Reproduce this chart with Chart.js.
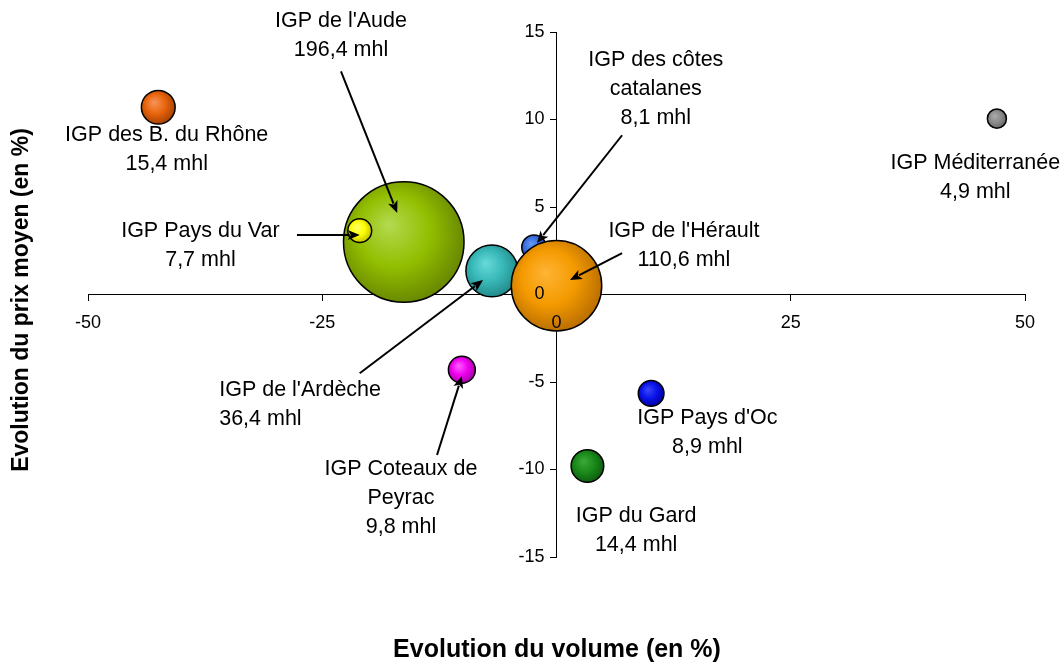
<!DOCTYPE html>
<html>
<head>
<meta charset="utf-8">
<script src="https://cdn.jsdelivr.net/npm/chart.js@4"></script>
<style>
  html, body { margin: 0; padding: 0; background: #fff; }
  #wrap { width: 1064px; height: 664px; }
</style>
</head>
<body>
<div id="wrap"><canvas id="chart"></canvas></div>
<script>
// data
const names = [
  ["IGP des B. du Rhône"], ["IGP Méditerranée"], ["IGP de l'Aude"], ["IGP Pays du Var"],
  ["IGP des côtes", "catalanes"], ["IGP de l'Ardèche"], ["IGP de l'Hérault"],
  ["IGP Coteaux de", "Peyrac"], ["IGP Pays d'Oc"], ["IGP du Gard"]
];
const volumes = [15.4, 4.9, 196.4, 7.7, 8.1, 36.4, 110.6, 9.8, 8.9, 14.4];
const volumeChange = [-42.5, 47, -16.3, -21.0, -2.4, -6.9, 0, -10.1, 10.1, 3.3];
const priceChange = [10.7, 10.05, 3.0, 3.65, 2.7, 1.35, 0.5, -4.3, -5.65, -9.8];
const xRange = [-50, 50, 25];
const yRange = [-15, 15, 5];

// styles: [base, light, dark]
const palette = [
  ['#E8640C', '#F8955A', '#A84400'],
  ['#8C8C8C', '#ABABAB', '#6A6A6A'],
  ['#92BE00', '#B4DA50', '#6A8A00'],
  ['#FFFF00', '#FFFF70', '#C4C400'],
  ['#3A70E0', '#6898F4', '#2448B0'],
  ['#38B8B8', '#68DADA', '#248C8C'],
  ['#F49A00', '#FFB435', '#BC7000'],
  ['#F000F0', '#FF60FF', '#A800A8'],
  ['#0A14E8', '#3A48FF', '#0000A8'],
  ['#1A8A1A', '#3AA83A', '#0E5E0E']
];
const bubbleScale = 4.3;

// label placement in axis units: x, y of first line, alignment
const labelAt = [
  [-41.6, 9.1, 'center'], [44.7, 7.5, 'center'], [-23.0, 15.6, 'center'], [-38.0, 3.6, 'center'],
  [10.6, 13.4, 'center'], [-36.0, -5.45, 'left'], [13.6, 3.6, 'center'],
  [-16.6, -9.95, 'center'], [16.1, -7.05, 'center'], [8.5, -12.65, 'center']
];
// arrows in axis units: [fromX, fromY, toX, toY]
const arrows = [
  [-23.0, 12.75, -17.0, 4.66],
  [-27.7, 3.4, -21.0, 3.4],
  [7.0, 9.1, -2.08, 2.94],
  [7.0, 2.37, 1.44, 0.83],
  [-21.0, -4.5, -7.84, 0.83],
  [-12.75, -9.17, -10.1, -4.66]
];

const fmt = v => v.toFixed(1).replace('.', ',') + ' mhl';
const radiusOf = ctx => Math.sqrt(ctx.raw.v) * bubbleScale;

const points = volumes.map((v, i) => ({ x: volumeChange[i], y: priceChange[i], v: v }));

function bubbleFill(ctx) {
  const chart = ctx.chart;
  const i = ctx.dataIndex;
  if (!chart.chartArea || ctx.raw === undefined) return palette[i][0];
  const x = chart.scales.x.getPixelForValue(ctx.raw.x);
  const y = chart.scales.y.getPixelForValue(ctx.raw.y);
  const r = radiusOf(ctx);
  const g = chart.ctx.createRadialGradient(x - r * 0.25, y - r * 0.3, 0, x - r * 0.1, y - r * 0.1, r * 1.1);
  g.addColorStop(0, palette[i][1]);
  g.addColorStop(0.55, palette[i][0]);
  g.addColorStop(1, palette[i][2]);
  return g;
}

const FONT = "'Liberation Sans', Arial, sans-serif";
const noPad = s => { s.paddingLeft = s.paddingRight = s.paddingTop = s.paddingBottom = 0; };
const zeroWidth = s => { s.width = 0; noPad(s); };
const zeroHeight = s => { s.height = 0; noPad(s); };

const annotations = {
  id: 'annotations',
  afterLayout(chart) {
    // y tick labels sit left of the vertical axis line at x = 0
    const s = chart.scales.yLabels;
    s.left = chart.chartArea.left;
    s.right = chart.scales.x.getPixelForValue(0);
  },
  beforeDatasetsDraw(chart) {
    const c = chart.ctx, sx = chart.scales.x, sy = chart.scales.y;
    c.save();
    c.fillStyle = '#000';
    c.font = '21.5px ' + FONT;
    c.textBaseline = 'middle';
    names.forEach((lines, i) => {
      const all = lines.concat([fmt(volumes[i])]);
      const [lx, ly, align] = labelAt[i];
      c.textAlign = align;
      const px = sx.getPixelForValue(lx), py = sy.getPixelForValue(ly);
      all.forEach((t, k) => c.fillText(t, px, py + k * 29));
    });
    c.restore();
  },
  afterDatasetsDraw(chart) {
    const c = chart.ctx, sx = chart.scales.x, sy = chart.scales.y;
    c.save();
    c.strokeStyle = '#000';
    c.fillStyle = '#000';
    c.lineWidth = 2;
    arrows.forEach(a => {
      const x1 = sx.getPixelForValue(a[0]), y1 = sy.getPixelForValue(a[1]);
      const x2 = sx.getPixelForValue(a[2]), y2 = sy.getPixelForValue(a[3]);
      const ang = Math.atan2(y2 - y1, x2 - x1);
      const hl = 12, hw = 5;
      const bx = x2 - hl * Math.cos(ang), by = y2 - hl * Math.sin(ang);
      c.beginPath();
      c.moveTo(x1, y1);
      c.lineTo(bx + 2 * Math.cos(ang), by + 2 * Math.sin(ang));
      c.stroke();
      c.beginPath();
      c.moveTo(x2, y2);
      c.lineTo(bx + hw * Math.sin(ang), by - hw * Math.cos(ang));
      c.lineTo(bx + 3 * Math.cos(ang), by + 3 * Math.sin(ang));
      c.lineTo(bx - hw * Math.sin(ang), by + hw * Math.cos(ang));
      c.closePath();
      c.fill();
    });
    c.restore();
  },
  afterDraw(chart) {
    const c = chart.ctx;
    c.save();
    c.fillStyle = '#000';
    c.textAlign = 'center';
    c.textBaseline = 'middle';
    c.font = 'bold 25px ' + FONT;
    c.fillText('Evolution du volume (en %)', 557, 650);
    c.font = 'bold 23px ' + FONT;
    c.translate(22, 300);
    c.rotate(-Math.PI / 2);
    c.fillText('Evolution du prix moyen (en %)', 0, 0);
    c.restore();
  }
};

const axisLine = { display: true, color: '#000', width: 1 };
const tickMarks = { display: true, drawOnChartArea: false, drawTicks: true, tickLength: 6, color: '#000' };
const labelFont = { family: FONT, size: 18 };

new Chart(document.getElementById('chart'), {
  type: 'bubble',
  data: {
    datasets: [{
      data: points,
      radius: radiusOf,
      backgroundColor: bubbleFill,
      borderColor: '#000',
      borderWidth: 1.5
    }]
  },
  options: {
    responsive: true,
    maintainAspectRatio: false,
    animation: false,
    events: [],
    layout: { autoPadding: false, padding: { left: 88, right: 39, top: 32, bottom: 107 } },
    plugins: { legend: { display: false }, tooltip: { enabled: false } },
    scales: {
      x: {
        type: 'linear', min: xRange[0], max: xRange[1], position: { y: 0 },
        ticks: { stepSize: xRange[2], color: '#000', font: labelFont, padding: 12, maxRotation: 0, z: 1 },
        grid: tickMarks, border: axisLine, afterFit: zeroHeight
      },
      y: {
        type: 'linear', min: yRange[0], max: yRange[1], position: { x: 0 },
        ticks: { display: false, stepSize: yRange[2] },
        grid: tickMarks, border: axisLine, afterFit: zeroWidth
      },
      yLabels: {
        type: 'linear', axis: 'y', min: yRange[0], max: yRange[1], position: 'left',
        ticks: { stepSize: yRange[2], color: '#000', font: labelFont, padding: 6, z: 1 },
        grid: { display: false, drawTicks: true, tickLength: 6 },
        border: { display: false }, afterFit: zeroWidth
      }
    }
  },
  plugins: [annotations]
});
</script>
</body>
</html>
